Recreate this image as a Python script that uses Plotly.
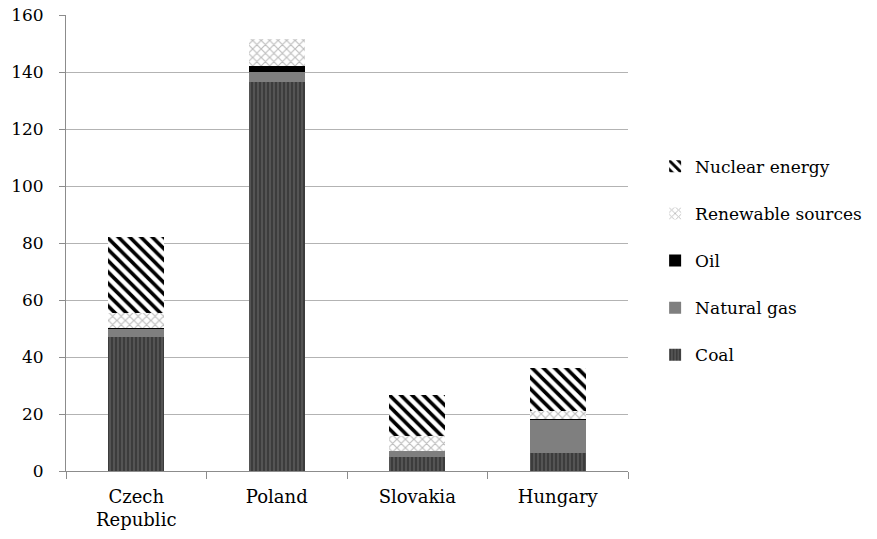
import plotly.graph_objects as go

countries = ["Czech<br>Republic", "Poland", "Slovakia", "Hungary"]
coal = [47.0, 136.6, 4.9, 6.4]
natural_gas = [3.0, 3.5, 2.0, 11.5]
oil = [0.3, 2.1, 0.0, 0.3]
renewable = [5.3, 9.3, 5.3, 2.9]
nuclear = [26.5, 0.0, 14.3, 14.9]
y_ticks = [0, 20, 40, 60, 80, 100, 120, 140, 160]

series = [
    ("Coal", coal, dict(shape="|", fgcolor="#1e1e1e", bgcolor="#545454", size=4, solidity=0.45)),
    ("Natural gas", natural_gas, dict(shape="", fgcolor="#7f7f7f", bgcolor="#7f7f7f")),
    ("Oil", oil, dict(shape="", fgcolor="#000000", bgcolor="#000000")),
    ("Renewable sources", renewable, dict(shape="x", fgcolor="#7a7a7a", bgcolor="#ffffff", size=6, solidity=0.35)),
    ("Nuclear energy", nuclear, dict(shape="\\", fgcolor="#000000", bgcolor="#ffffff", size=8, solidity=0.45, fgopacity=1)),
]

fig = go.Figure()
for i, (name, vals, pat) in enumerate(series):
    fig.add_trace(go.Bar(
        name=name, x=countries, y=vals, legendgroup=name,
        legendrank=1000 - i,
        marker=dict(color=pat["bgcolor"], line=dict(width=0), pattern=pat),
    ))

font_family = "DejaVu Serif"
fig.update_layout(
    barmode="stack",
    bargap=0.6,
    width=877, height=539,
    margin=dict(l=66, r=249, t=15, b=68, autoexpand=False),
    paper_bgcolor="white", plot_bgcolor="white",
    font=dict(family=font_family, size=18, color="#000000"),
    legend=dict(
        xref="container", x=0.747, xanchor="left", y=0.461, yanchor="middle",
        traceorder="grouped", tracegroupgap=22,
        font=dict(family=font_family, size=17), itemwidth=30,
    ),
    xaxis=dict(
        showline=True, linecolor="#8c8c8c", linewidth=1,
        ticks="outside", tickson="boundaries", ticklen=7, tickcolor="#8c8c8c",
        tickfont=dict(family=font_family, size=18), ticklabelstandoff=9,
    ),
    yaxis=dict(
        range=[0, 160], tickvals=y_ticks, ticktext=[str(v) for v in y_ticks],
        showline=True, linecolor="#8c8c8c", linewidth=1,
        ticks="outside", ticklen=6, tickcolor="#8c8c8c",
        showgrid=True, gridcolor="#b3b3b3", gridwidth=1,
        zeroline=False, tickfont=dict(family=font_family, size=17),
        ticklabelstandoff=12,
    ),
)

fig.write_html("out.html")
